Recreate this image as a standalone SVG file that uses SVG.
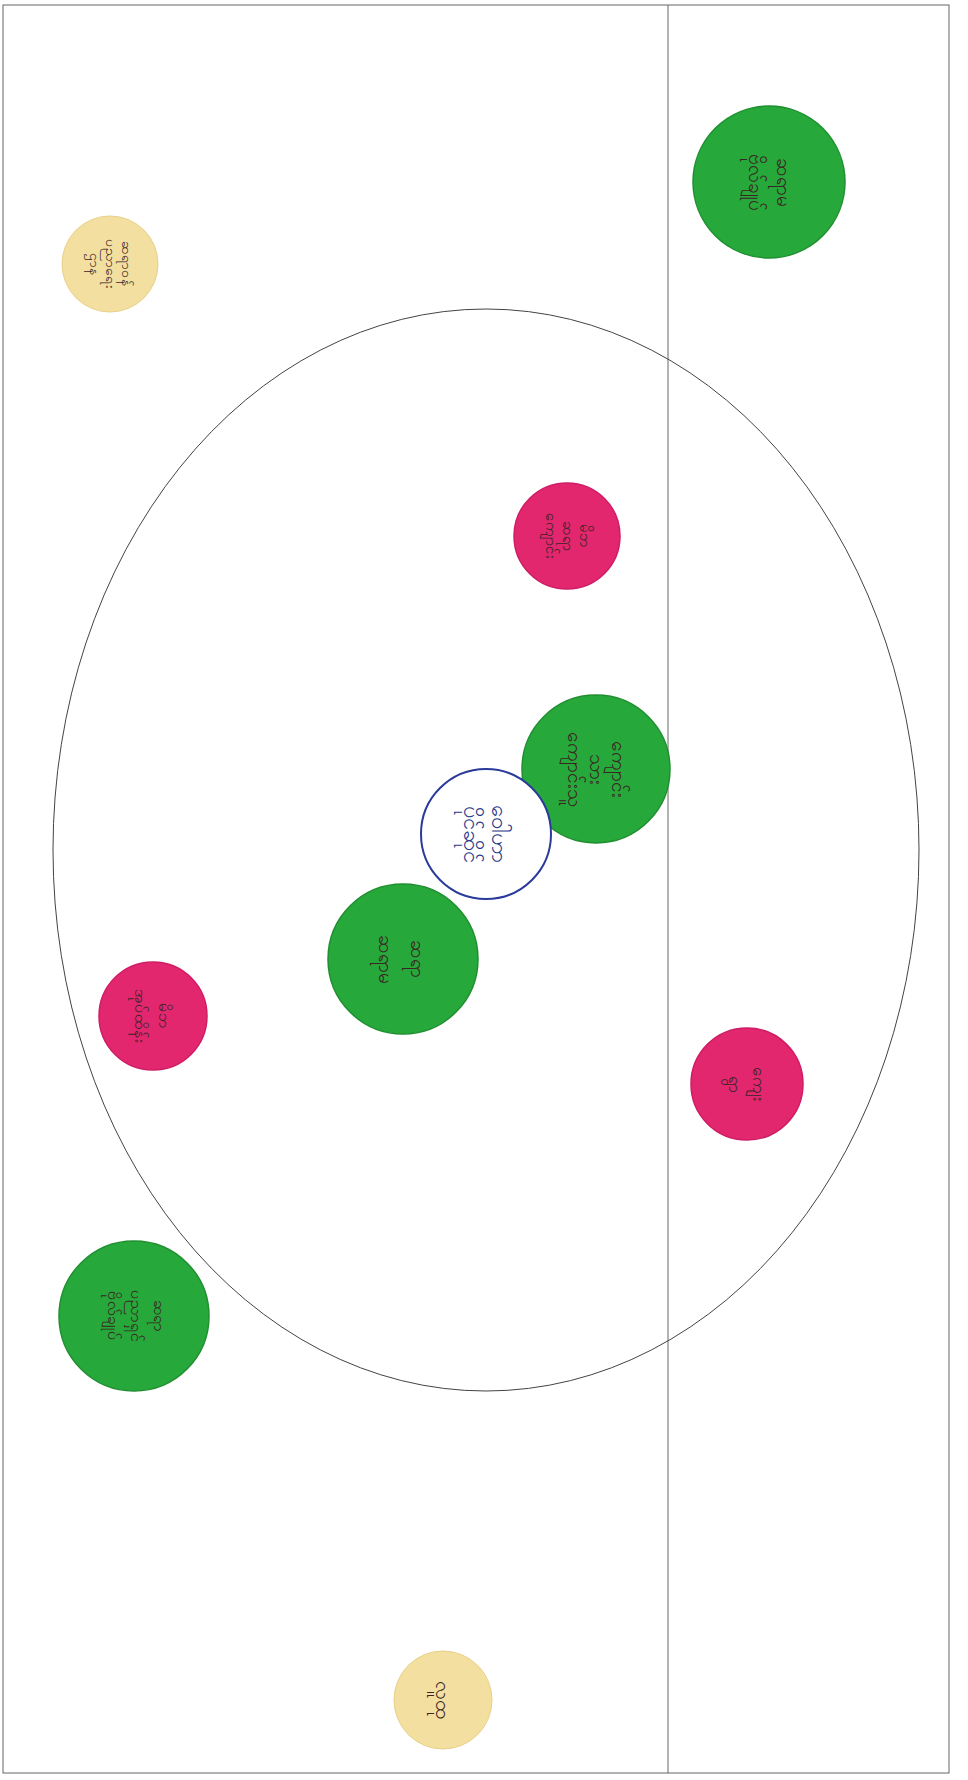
<svg xmlns="http://www.w3.org/2000/svg" width="968" height="1780" viewBox="0 0 968 1780">
<style>
.g{fill:#27a83a;stroke:#1f8f30;stroke-width:1.5}
.p{fill:#e3276f;stroke:#cf1c64;stroke-width:1.5}
.y{fill:#f3dfa0;stroke:#ead08a;stroke-width:1}
.t{font-family:"Noto Sans","DejaVu Sans",sans-serif;font-size:19px;fill:#3a2424;text-anchor:middle}
.tb{font-family:"Noto Sans","DejaVu Sans",sans-serif;font-size:22px;fill:#2a3a8a;text-anchor:middle}
.ln{fill:none;stroke:#666;stroke-width:1}
</style>
<rect width="968" height="1780" fill="#ffffff"/>
<g id="frame">
<rect x="3" y="5" width="946" height="1768" class="ln"/>
<line x1="668" y1="5" x2="668" y2="1773" class="ln"/>
</g>
<g id="boundary"><ellipse cx="486" cy="850" rx="433" ry="541" fill="none" stroke="#444" stroke-width="1"/></g>
<g id="connectors"></g>
<g id="n1"><circle cx="769" cy="182" r="76" class="g"/><text class="t" transform="translate(769,182) rotate(90)"><tspan x="0" y="-8">ဆရာမ</tspan><tspan x="0" y="20">ဗိုလ်ချုပ်</tspan></text></g>
<g id="n2"><circle cx="110" cy="264" r="48" class="y"/><text class="t" transform="translate(110,264) rotate(90)" style="font-size:14px"><tspan x="0" y="-12">ဆရာဝန်</tspan><tspan x="0" y="4">ပညာရေး</tspan><tspan x="0" y="20">ဌာန</tspan></text></g>
<g id="n3"><circle cx="567" cy="536" r="53" class="p"/><text class="t" transform="translate(567,536) rotate(90)" style="font-size:15px"><tspan x="0" y="-13">မိဘ</tspan><tspan x="0" y="4">ဆရာ</tspan><tspan x="0" y="21">ကျောင်း</tspan></text></g>
<g id="n4"><circle cx="596" cy="769" r="74" class="g"/><text class="t" transform="translate(596,769) rotate(90)"><tspan x="0" y="-16">ကျောင်း</tspan><tspan x="0" y="6">သား</tspan><tspan x="0" y="28">ကျောင်းသူ</tspan></text></g>
<g id="n5"><circle cx="486" cy="834" r="65" fill="#fff" stroke="#2a3a9a" stroke-width="2"/><text class="tb" transform="translate(486,834) rotate(90)"><tspan x="0" y="-6">ဝေါဟာ</tspan><tspan x="0" y="22">ပိုင်ဆိုင်</tspan></text></g>
<g id="n6"><circle cx="403" cy="959" r="75" class="g"/><text class="t" transform="translate(403,959) rotate(90)"><tspan x="0" y="-8">ဆရာ</tspan><tspan x="0" y="24">ဆရာမ</tspan></text></g>
<g id="n7"><circle cx="153" cy="1016" r="54" class="p"/><text class="t" transform="translate(153,1016) rotate(90)" style="font-size:16px"><tspan x="0" y="-6">မိဘ</tspan><tspan x="0" y="18">အုပ်ထိန်း</tspan></text></g>
<g id="n8"><circle cx="747" cy="1084" r="56" class="p"/><text class="t" transform="translate(747,1084) rotate(90)" style="font-size:17px"><tspan x="0" y="-6">ကျေး</tspan><tspan x="0" y="18">ရွာ</tspan></text></g>
<g id="n9"><circle cx="134" cy="1316" r="75" class="g"/><text class="t" transform="translate(134,1316) rotate(90)" style="font-size:16px"><tspan x="0" y="-20">ဆရာ</tspan><tspan x="0" y="3">ပညာရှင်</tspan><tspan x="0" y="26">ဗိုလ်ချုပ်</tspan></text></g>
<g id="n10"><circle cx="443" cy="1700" r="49" class="y"/><text class="t" transform="translate(443,1700) rotate(90)" style="font-size:20px"><tspan x="0" y="7">လူထု</tspan></text></g>
</svg>
